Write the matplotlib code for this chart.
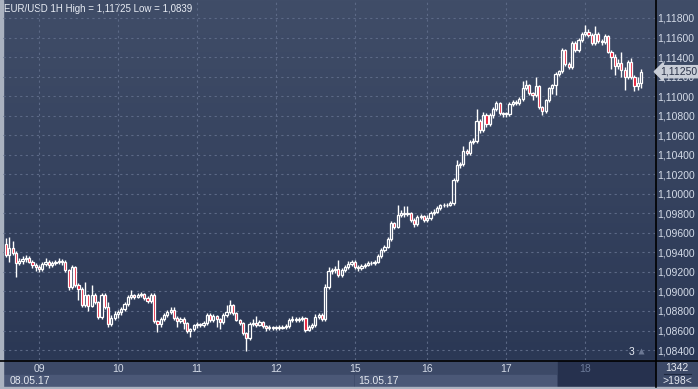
import numpy as np
import matplotlib.pyplot as plt
from matplotlib.patches import Rectangle
import matplotlib.transforms as mtransforms

plt.rc('font', family=['Liberation Sans', 'DejaVu Sans'])

# hourly EUR/USD candles, 08.05.17 14:00 -> 18.05.17
day_labels = ['09', '10', '11', '12', '15', '16', '17', '18']
day_starts = [10, 34, 58, 82, 106, 128, 152, 176]
week_labels = ['08.05.17', '15.05.17']
week_starts = [0, 106]
price_ticks = [1.084, 1.086, 1.088, 1.090, 1.092, 1.094, 1.096, 1.098, 1.100,
               1.102, 1.104, 1.106, 1.108, 1.110, 1.112, 1.114, 1.116, 1.118]
last_price = 1.1125
first_open = 1.0949

close = [
    # 08
    1.0937, 1.0944, 1.0939, 1.0929, 1.0931, 1.0933, 1.0934, 1.0930, 1.0927, 1.0925,
    # 09
    1.0923, 1.0928, 1.0930, 1.0927, 1.0929, 1.0930, 1.0931, 1.0930, 1.0922, 1.0905, 1.0925, 1.0907,
    1.0903, 1.0886, 1.0896, 1.0885, 1.0896, 1.0889, 1.0874, 1.0896, 1.0884, 1.0867, 1.0873, 1.0877,
    # 10
    1.0879, 1.0882, 1.0887, 1.0894, 1.0896, 1.0894, 1.0896, 1.0897, 1.0893, 1.0890, 1.0896, 1.0870,
    1.0867, 1.0872, 1.0876, 1.0879, 1.0881, 1.0873, 1.0870, 1.0872, 1.0868, 1.0859, 1.0862, 1.0866,
    # 11
    1.0867, 1.0866, 1.0868, 1.0876, 1.0871, 1.0875, 1.0872, 1.0869, 1.0876, 1.0879, 1.0886, 1.0878,
    1.0871, 1.0868, 1.0857, 1.0852, 1.0867, 1.0868, 1.0866, 1.0869, 1.0865, 1.0863, 1.0864, 1.0863,
    # 12
    1.0863, 1.0863, 1.0864, 1.0865, 1.0871, 1.0872, 1.0871, 1.0872, 1.0873, 1.0861, 1.0864, 1.0866,
    1.0874, 1.0876, 1.0872, 1.0905, 1.0921, 1.0922, 1.0923, 1.0917, 1.0922, 1.0925, 1.0928, 1.0930,
    # 15
    1.0925, 1.0924, 1.0926, 1.0927, 1.0929, 1.0929, 1.0930, 1.0936, 1.0942, 1.0946, 1.0954,
    1.0970, 1.0966, 1.0978, 1.0980, 1.0979, 1.0980, 1.0973, 1.0969, 1.0976, 1.0977, 1.0973,
    # 16
    1.0975, 1.0980, 1.0981, 1.0985, 1.0988, 1.0988, 1.0989, 1.0991, 1.1014, 1.1029, 1.1030, 1.1044,
    1.1042, 1.1053, 1.1054, 1.1075, 1.1065, 1.1081, 1.1071, 1.1081, 1.1087, 1.1093, 1.1083, 1.1082,
    # 17
    1.1082, 1.1092, 1.1094, 1.1093, 1.1097, 1.1108, 1.1111, 1.1103, 1.1101, 1.1110, 1.1089, 1.1085,
    1.1096, 1.1108, 1.1111, 1.1123, 1.1126, 1.1147, 1.1133, 1.1130, 1.1154, 1.1147, 1.1157, 1.1164,
    # 18
    1.1166, 1.1163, 1.1154, 1.1164, 1.1156, 1.1155, 1.1162, 1.1145, 1.1140, 1.1131, 1.1134, 1.1127,
    1.1120, 1.1135, 1.1120, 1.1110, 1.1113, 1.1125,
]
high = [
    1.0955, 1.0956, 1.0952, 1.0941, 1.0934, 1.0936, 1.0937, 1.0936, 1.0932, 1.0929,
    1.0927, 1.0930, 1.0934, 1.0932, 1.0931, 1.0932, 1.0934, 1.0933, 1.0932, 1.0923, 1.0927, 1.0926,
    1.0909, 1.0905, 1.0910, 1.0897, 1.0907, 1.0898, 1.0890, 1.0898, 1.0898, 1.0889, 1.0876, 1.0880,
    1.0881, 1.0884, 1.0889, 1.0896, 1.0901, 1.0897, 1.0898, 1.0899, 1.0898, 1.0895, 1.0898, 1.0898,
    1.0871, 1.0874, 1.0878, 1.0881, 1.0884, 1.0884, 1.0875, 1.0874, 1.0874, 1.0869, 1.0863, 1.0867,
    1.0869, 1.0868, 1.0870, 1.0878, 1.0878, 1.0877, 1.0876, 1.0873, 1.0878, 1.0886, 1.0891, 1.0887,
    1.0879, 1.0872, 1.0869, 1.0858, 1.0869, 1.0872, 1.0875, 1.0871, 1.0870, 1.0866, 1.0866, 1.0865,
    1.0865, 1.0866, 1.0866, 1.0867, 1.0873, 1.0875, 1.0874, 1.0874, 1.0875, 1.0874, 1.0866, 1.0868,
    1.0877, 1.0878, 1.0878, 1.0908, 1.0925, 1.0924, 1.0926, 1.0932, 1.0924, 1.0927, 1.0931, 1.0932,
    1.0932, 1.0927, 1.0928, 1.0929, 1.0931, 1.0931, 1.0932, 1.0938, 1.0944, 1.0948, 1.0956,
    1.0972, 1.0971, 1.0988, 1.0983, 1.0987, 1.0987, 1.0981, 1.0975, 1.0978, 1.0979, 1.0978,
    1.0978, 1.0982, 1.0984, 1.0987, 1.0990, 1.0991, 1.0991, 1.0993, 1.1016, 1.1035, 1.1033, 1.1049,
    1.1046, 1.1055, 1.1057, 1.1087, 1.1077, 1.1084, 1.1083, 1.1083, 1.1089, 1.1095, 1.1094, 1.1084,
    1.1084, 1.1094, 1.1096, 1.1096, 1.1099, 1.1115, 1.1116, 1.1112, 1.1104, 1.1120, 1.1111, 1.1090,
    1.1097, 1.1109, 1.1112, 1.1125, 1.1127, 1.1149, 1.1148, 1.1135, 1.1156, 1.1156, 1.1159, 1.1166,
    1.11725, 1.1169, 1.1165, 1.1172, 1.1166, 1.1158, 1.1164, 1.1163, 1.1147, 1.1143, 1.1138, 1.1145,
    1.1130, 1.1137, 1.1139, 1.1122, 1.1120, 1.1128,
]
low = [
    1.0935, 1.0930, 1.0937, 1.0915, 1.0927, 1.0928, 1.0930, 1.0929, 1.0924, 1.0921,
    1.0920, 1.0921, 1.0926, 1.0924, 1.0925, 1.0927, 1.0928, 1.0927, 1.0920, 1.0901, 1.0903, 1.0905,
    1.0891, 1.0884, 1.0884, 1.0880, 1.0884, 1.0887, 1.0872, 1.0872, 1.0882, 1.0864, 1.0865, 1.0871,
    1.0873, 1.0876, 1.0880, 1.0885, 1.0892, 1.0892, 1.0893, 1.0894, 1.0891, 1.0888, 1.0888, 1.0868,
    1.0858, 1.0864, 1.0870, 1.0874, 1.0877, 1.0871, 1.0864, 1.0868, 1.0862, 1.0857, 1.0853, 1.0860,
    1.0863, 1.0864, 1.0864, 1.0866, 1.0869, 1.0869, 1.0864, 1.0862, 1.0867, 1.0874, 1.0877, 1.0876,
    1.0870, 1.0866, 1.0855, 1.0839, 1.0850, 1.0865, 1.0864, 1.0865, 1.0863, 1.0860, 1.0861, 1.0861,
    1.0861, 1.0861, 1.0862, 1.0862, 1.0863, 1.0869, 1.0869, 1.0869, 1.0870, 1.0858, 1.0859, 1.0862,
    1.0864, 1.0872, 1.0870, 1.0870, 1.0903, 1.0918, 1.0919, 1.0915, 1.0915, 1.0920, 1.0923, 1.0926,
    1.0923, 1.0921, 1.0922, 1.0924, 1.0926, 1.0927, 1.0927, 1.0929, 1.0934, 1.0940, 1.0944,
    1.0952, 1.0964, 1.0965, 1.0976, 1.0976, 1.0977, 1.0971, 1.0966, 1.0967, 1.0974, 1.0971,
    1.0971, 1.0973, 1.0978, 1.0980, 1.0983, 1.0986, 1.0986, 1.0987, 1.0989, 1.1012, 1.1026, 1.1028,
    1.1040, 1.1040, 1.1051, 1.1052, 1.1062, 1.1063, 1.1068, 1.1069, 1.1078, 1.1085, 1.1081, 1.1079,
    1.1079, 1.1080, 1.1090, 1.1091, 1.1091, 1.1095, 1.1106, 1.1101, 1.1096, 1.1099, 1.1087, 1.1081,
    1.1083, 1.1094, 1.1102, 1.1101, 1.1121, 1.1124, 1.1131, 1.1128, 1.1128, 1.1145, 1.1145, 1.1155,
    1.1162, 1.1161, 1.1152, 1.1152, 1.1154, 1.1152, 1.1153, 1.1144, 1.1128, 1.1122, 1.1128, 1.1120,
    1.1106, 1.1118, 1.1118, 1.1105, 1.1106, 1.1108,
]

W, H = 698, 389
fig = plt.figure(figsize=(W / 100, H / 100), dpi=100)

# background, drawn in pixel coordinates
bg = fig.add_axes([0, 0, 1, 1], zorder=-1)
bg.set_xlim(0, W)
bg.set_ylim(H, 0)
bg.axis('off')
grad = np.linspace(0, 1, 256)[:, None]
top_c = np.array([64, 77, 104]) / 255
bot_c = np.array([43, 56, 85]) / 255
img = top_c[None, None, :] * (1 - grad[:, :, None]) + bot_c[None, None, :] * grad[:, :, None]
bg.imshow(img, extent=[0, W, 360, 0], aspect='auto')
bg.add_patch(Rectangle((0, 360), W, 29, color='#3c4967'))
bg.add_patch(Rectangle((3, 375), 350, 12, color='#4b5877'))
bg.add_patch(Rectangle((355, 375), 201, 12, color='#4b5877'))
bg.add_patch(Rectangle((558, 361), 97, 26, color='#26314e'))
bg.add_patch(Rectangle((0, 0), 3, H, color='#aab2c0'))
bg.add_patch(Rectangle((0, 387), W, 2, color='#aab2c0'))
bg.plot([0, W], [360.5, 360.5], color='black', lw=1.2)
bg.plot([655.5, 655.5], [0, 387], color='black', lw=1.2)
bg.text(677, 368, '1342', color='#e4e8f0', fontsize=7.5, ha='center', va='center')
bg.plot([664, 691], [374, 374], color='#1e2840', lw=0.8)
bg.text(677, 381, '>198<', color='#e4e8f0', fontsize=7.5, ha='center', va='center')
bg.text(4, 9, 'EUR/USD 1H High = 1,11725 Low = 1,0839', color='#e8ecf4',
        fontsize=7, ha='left', va='center')

# price axes
x0_px, x1_px = 3, 655
px_per_bar = 3.29
xl = 10 + (x0_px - 39) / px_per_bar
xr = 10 + (x1_px - 39) / px_per_bar
ax = fig.add_axes([x0_px / W, 29 / H, (x1_px - x0_px) / W, 360 / H])
ax.set_facecolor('none')
ax.set_xlim(xl, xr)
ax.set_ylim(1.08298, 1.11984)

c = np.array(close)
hi = np.array(high)
lo = np.array(low)
o = np.r_[first_open, c[:-1]]
x = np.arange(len(c))
up = c >= o
top = np.maximum(o, c)
bot = np.minimum(o, c)
hgt = np.maximum(top - bot, 0.00002)

ax.vlines(x, top, np.maximum(hi, top), color='white', lw=1, zorder=3)
ax.vlines(x, np.minimum(lo, bot), bot, color='white', lw=1, zorder=3)
ax.bar(x[up], hgt[up], bottom=bot[up], width=0.66, facecolor='none',
       edgecolor='white', linewidth=0.9, zorder=4)
ax.bar(x[~up], hgt[~up], bottom=bot[~up], width=0.66, facecolor='#e8102c',
       edgecolor='white', linewidth=0.9, zorder=4)

ax.set_yticks(price_ticks)
ax.set_yticklabels([f'{v:.5f}'.replace('.', ',') for v in price_ticks])
ax.yaxis.tick_right()
ax.tick_params(axis='y', length=0, pad=1.5, labelsize=7.5, labelcolor='#d4dbe8')
ax.set_xticks(day_starts)
ax.set_xticklabels(day_labels)
ax.tick_params(axis='x', length=0, pad=3, labelsize=7.5, labelcolor='#d4dbe8')
ax.get_xticklabels()[-1].set_color('#6c7a98')
ax.grid(True, color='#5c6986', linestyle=(0, (2, 3)), lw=0.8)
ax.set_axisbelow(True)
for s in ax.spines.values():
    s.set_visible(False)

trans = mtransforms.blended_transform_factory(ax.transData, fig.transFigure)
for lab, st in zip(week_labels, week_starts):
    ax.text(st + 1.0, 1 - 381 / H, lab, transform=trans, color='#e4e8f0',
            fontsize=7.5, ha='left', va='center', clip_on=False)

# last price marker
ax.annotate(f'{last_price:.5f}'.replace('.', ','), xy=(1.0, last_price),
            xycoords=('axes fraction', 'data'), xytext=(4, 0),
            textcoords='offset points', ha='left', va='center', fontsize=7.5,
            color='#2a3248', annotation_clip=False, zorder=6,
            bbox=dict(boxstyle='larrow,pad=0.1', fc='#c9ced8', ec='#c9ced8'))

ax.text(xl + (632 - x0_px) / px_per_bar, 1.0838, '3', color='#e4e8f0',
        fontsize=7.5, ha='center', va='center')
ax.plot([xl + (641 - x0_px) / px_per_bar], [1.0839], marker='^', ms=4,
        color='#6c7894', mec='none')

fig.savefig('out.png', dpi=100)
